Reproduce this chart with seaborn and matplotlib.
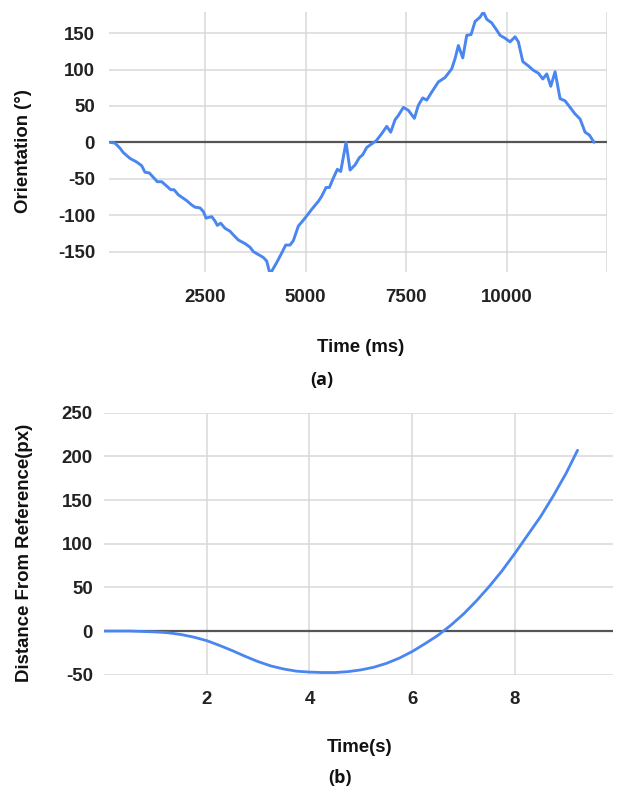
import matplotlib
matplotlib.use("Agg")
import matplotlib.pyplot as plt
import seaborn as sns
import pandas as pd

# ---- data: (a) orientation vs time ----
time_ms = [144, 266, 390, 472, 638, 804, 928, 1011, 1118, 1217, 1316, 1425, 1549, 1649,
           1731, 1838, 2046, 2170, 2252, 2377, 2459, 2526, 2667, 2749, 2806, 2890, 2997,
           3121, 3203, 3327, 3494, 3618, 3700, 3824, 3948, 4032, 4097, 4156, 4280, 4404,
           4504, 4611, 4693, 4817, 4983, 5149, 5314, 5397, 5505, 5587, 5686, 5786, 5869,
           6001, 6101, 6225, 6332, 6416, 6515, 6640, 6747, 6888, 7012, 7111, 7218, 7301,
           7425, 7549, 7698, 7797, 7906, 8005, 8129, 8293, 8459, 8626, 8708, 8790, 8899,
           8998, 9105, 9205, 9329, 9411, 9495, 9619, 9743, 9825, 9949, 10074, 10198, 10280,
           10389, 10528, 10652, 10776, 10886, 10985, 11084, 11191, 11315, 11439, 11564,
           11688, 11812, 11936, 12043, 12159]
orientation = [0, -1, -8, -14, -22, -27, -32, -41, -42, -48, -54, -54, -60, -65,
               -65, -72, -80, -86, -89, -90, -95, -104, -102, -108, -114, -111, -118,
               -122, -127, -134, -139, -144, -150, -154, -158, -163, -177, -177, -165, -152,
               -141, -141, -135, -115, -104, -92, -81, -74, -62, -62, -49, -37, -40,
               0, -38, -31, -21, -17, -7, -2, 2, 12, 22, 14, 31, 37,
               48, 44, 33, 51, 61, 58, 69, 83, 89, 101, 115, 133, 116,
               147, 148, 166, 172, 179, 169, 164, 154, 147, 143, 138, 145, 138,
               111, 105, 99, 95, 87, 94, 77, 97, 60, 57, 48,
               39, 32, 14, 10, 0]

# ---- data: (b) distance vs time ----
time_s = [0.0, 0.5, 1.0, 1.25, 1.5, 1.75, 2.0, 2.25, 2.5, 2.75, 3.0, 3.25, 3.5, 3.75,
          4.0, 4.25, 4.5, 4.75, 5.0, 5.25, 5.5, 5.75, 6.0, 6.25, 6.5, 6.75, 7.0, 7.25,
          7.5, 7.75, 8.0, 8.25, 8.5, 8.75, 9.0, 9.22]
distance = [0, 0, -1, -2, -4, -7, -11, -16.5, -22.5, -29, -35, -40, -43.5, -46,
            -47, -47.5, -47.5, -46.5, -44.5, -41.5, -37, -31, -23.5, -14.5, -5, 6.5, 19.5, 34.5,
            51, 69, 89, 110, 131, 155, 181, 207]

a_xticks = [2500, 5000, 7500, 10000]
a_yticks = [-150, -100, -50, 0, 50, 100, 150]
b_xticks = [2, 4, 6, 8]
b_yticks = [-50, 0, 50, 100, 150, 200, 250]

df_a = pd.DataFrame({"t": time_ms, "v": orientation})
df_b = pd.DataFrame({"t": time_s, "v": distance})

sns.set_theme(style="white")
plt.rcParams["font.family"] = ["Liberation Sans", "DejaVu Sans"]

W, H = 619, 792
fig = plt.figure(figsize=(W / 100, H / 100), dpi=100)

def ax_box(l, t, r, b):
    return [l / W, 1 - b / H, (r - l) / W, (b - t) / H]

LINE = "#4a86f0"
GRID = "#d9d9d9"
ZERO = "#555555"
FS = 13.4

def style(ax):
    for s in ax.spines.values():
        s.set_visible(False)
    ax.grid(True, color=GRID, linewidth=1.1)
    ax.set_axisbelow(True)
    ax.tick_params(axis="both", length=0, labelsize=FS, pad=8)
    for lab in ax.get_xticklabels() + ax.get_yticklabels():
        lab.set_fontweight("bold")
        lab.set_color("#222222")
    ax.set_xlabel("")
    ax.set_ylabel("")

# ---- (a) ----
ax1 = fig.add_axes(ax_box(109, 12, 607, 272))
ax1.axhline(0, color=ZERO, linewidth=1.6, zorder=2)
ax1.axvline(12480, color=GRID, linewidth=1.1, zorder=0)
sns.lineplot(data=df_a, x="t", y="v", ax=ax1, color=LINE, linewidth=2.1, zorder=3)
ax1.set_xlim(117, 12480)
ax1.set_ylim(-178, 179)
ax1.set_xticks(a_xticks)
ax1.set_yticks(a_yticks)
ax1.set_xticklabels([str(v) for v in a_xticks])
ax1.set_yticklabels([str(v) for v in a_yticks])
style(ax1)
ax1.tick_params(axis="x", pad=12)
ax1.tick_params(axis="y", pad=10)

fig.text(24 / W, 1 - 151 / H, "Orientation (°)", rotation=90, ha="center", va="center",
         fontsize=FS, fontweight="bold", color="#111111")
fig.text(361 / W, 1 - 347 / H, "Time (ms)", ha="center", va="center",
         fontsize=FS, fontweight="bold", color="#111111")
fig.text(322 / W, 1 - 380 / H, "(a)", ha="center", va="center",
         fontsize=13, fontweight="bold", color="#111111", family=["Open Sans", "DejaVu Sans"])

# ---- (b) ----
ax2 = fig.add_axes(ax_box(104, 412.7, 613, 674.7))
ax2.axhline(0, color=ZERO, linewidth=1.6, zorder=2)
sns.lineplot(data=df_b, x="t", y="v", ax=ax2, color=LINE, linewidth=2.0, zorder=3)
ax2.set_xlim(0, 9.91)
ax2.set_ylim(-50, 250)
ax2.set_xticks(b_xticks)
ax2.set_yticks(b_yticks)
ax2.set_xticklabels([str(v) for v in b_xticks])
ax2.set_yticklabels([str(v) for v in b_yticks])
style(ax2)
ax2.tick_params(axis="x", pad=12)

fig.text(25 / W, 1 - 553 / H, "Distance From Reference(px)", rotation=90, ha="center",
         va="center", fontsize=FS, fontweight="bold", color="#111111")
fig.text(359.5 / W, 1 - 747 / H, "Time(s)", ha="center", va="center",
         fontsize=FS, fontweight="bold", color="#111111")
fig.text(340 / W, 1 - 778 / H, "(b)", ha="center", va="center",
         fontsize=13, fontweight="bold", color="#111111", family=["Open Sans", "DejaVu Sans"])

fig.savefig("out.png", dpi=100)
